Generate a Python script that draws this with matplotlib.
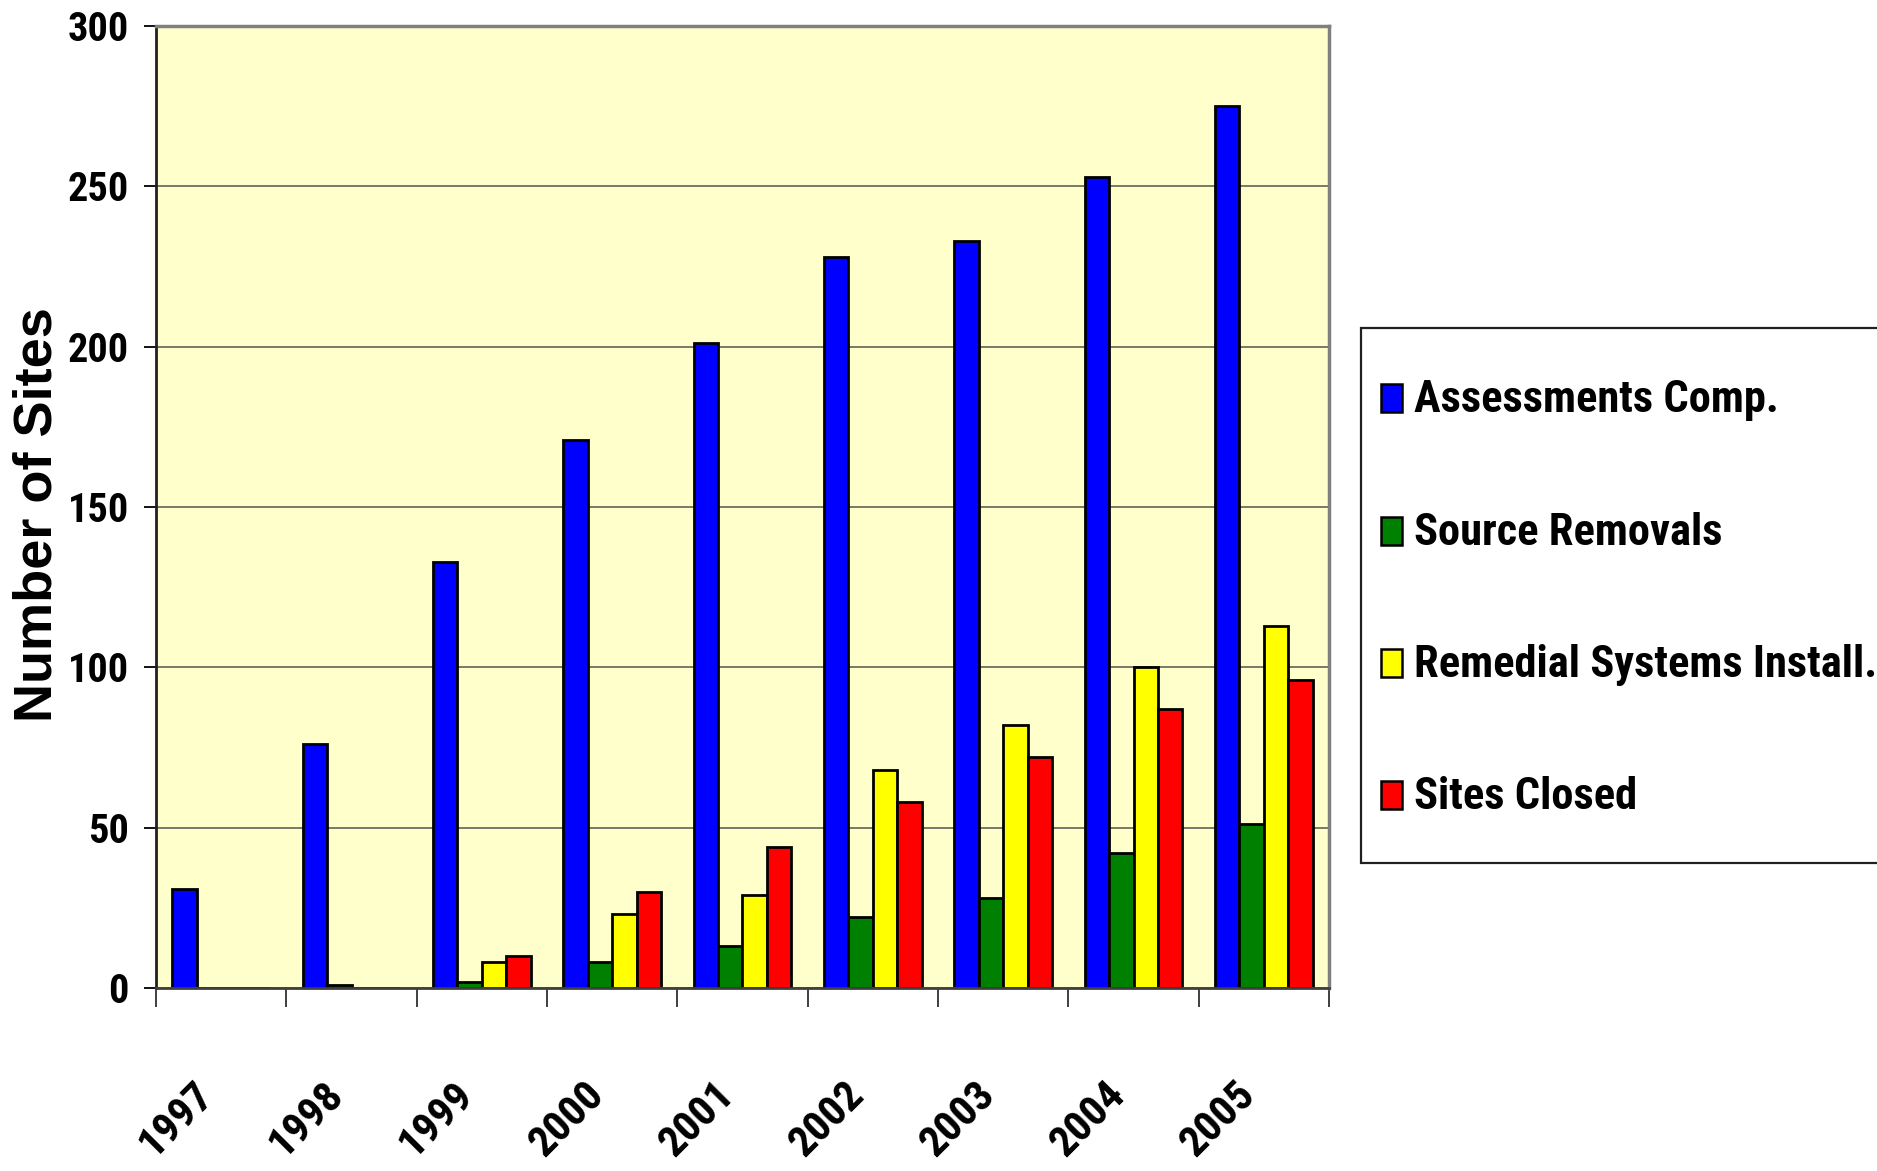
import matplotlib
matplotlib.use("Agg")
import matplotlib.pyplot as plt
from matplotlib import font_manager as fm
import numpy as np
from matplotlib.patches import Rectangle

# ---- data ----
years = ["1997", "1998", "1999", "2000", "2001", "2002", "2003", "2004", "2005"]
assessments = [31, 76, 133, 171, 201, 228, 233, 253, 275]
source_removals = [0, 1, 2, 8, 13, 22, 28, 42, 51]
remedial_installs = [0, 0, 8, 23, 29, 68, 82, 100, 113]
sites_closed = [0, 0, 10, 30, 44, 58, 72, 87, 96]
series_names = ["Assessments Comp.", "Source Removals",
                "Remedial Systems Install.", "Sites Closed"]
series_colors = ["#0000FF", "#008000", "#FFFF00", "#FF0000"]
y_ticks = [0, 50, 100, 150, 200, 250, 300]


def available(fam):
    try:
        fm.findfont(fm.FontProperties(family=fam, weight="bold"),
                    fallback_to_default=False)
        return True
    except Exception:
        return False


narrow = None
for cand in ["Roboto Condensed", "Liberation Sans Narrow", "Arial Narrow"]:
    if available(cand):
        narrow = cand
        break
if narrow is not None:
    NARROW = [narrow, "DejaVu Sans"]
    k = 1.0
else:
    NARROW = ["Liberation Sans", "DejaVu Sans"]
    k = 0.8
WIDE = ["Liberation Sans", "DejaVu Sans"]

W, H = 1877, 1171
fig = plt.figure(figsize=(W / 100, H / 100), dpi=100)
fig.patch.set_facecolor("white")

ax = fig.add_axes([156 / W, 1 - 988 / H, (1329 - 156) / W, (988 - 26) / H])
ax.set_facecolor("#FFFFCC")

x = np.arange(len(years))
bw = 0.1875
all_series = [assessments, source_removals, remedial_installs, sites_closed]
for i, (vals, col) in enumerate(zip(all_series, series_colors)):
    ax.bar(x + (i - 1.5) * bw, vals, width=bw, color=col,
           edgecolor="black", linewidth=2.0, zorder=3)

ax.set_xlim(-0.5, len(years) - 0.5)
ax.set_ylim(0, 300)

# grid
ax.set_axisbelow(True)
ax.yaxis.grid(True, color="#6e6e60", linewidth=1.3)
ax.xaxis.grid(False)

# spines
for s in ["top", "right"]:
    ax.spines[s].set_color("#808080")
    ax.spines[s].set_linewidth(2.5)
ax.spines["left"].set_color("#202020")
ax.spines["left"].set_linewidth(2.0)
ax.spines["bottom"].set_color("#404040")
ax.spines["bottom"].set_linewidth(2.0)
ax.spines["bottom"].set_zorder(4)

# y ticks
ax.set_yticks(y_ticks)
ax.set_yticklabels([str(v) for v in y_ticks], fontfamily=NARROW,
                   fontweight="bold", fontsize=29 * k)
ax.tick_params(axis="y", length=8.6, width=1.3, color="black", pad=11)

# x ticks: labels at centers, tick marks at boundaries
ax.set_xticks(x)
ax.set_xticklabels(years, rotation=45, ha="right", va="top",
                   fontfamily=NARROW, fontweight="bold", fontsize=31 * k)
ax.tick_params(axis="x", which="major", length=0, pad=62)
ax.set_xticks(np.arange(-0.5, len(years), 1.0), minor=True)
ax.tick_params(axis="x", which="minor", length=13.7, width=1.3, color="#303030")

# y label
fig.text(38 / W, 1 - 515 / H, "Number of Sites", rotation=90,
         ha="center", va="center", fontfamily=WIDE, fontweight="bold",
         fontsize=39)

# legend (drawn as a box with keys)
lx0, ly0, lx1, ly1 = 1361, 328, 1905, 862.7
fig.patches.append(Rectangle((lx0 / W, 1 - ly1 / H), (lx1 - lx0) / W,
                             (ly1 - ly0) / H, transform=fig.transFigure,
                             facecolor="white", edgecolor="#202020",
                             linewidth=1.6, zorder=1))
entry_y = [398, 531, 663, 795]
for name, col, ey in zip(series_names, series_colors, entry_y):
    fig.patches.append(Rectangle((1381 / W, 1 - (ey + 14) / H), 21 / W, 28 / H,
                                 transform=fig.transFigure, facecolor=col,
                                 edgecolor="black", linewidth=1.8, zorder=2))
    fig.text(1414 / W, 1 - (ey + 2) / H, name, ha="left", va="center",
             fontfamily=NARROW, fontweight="bold", fontsize=32 * k, zorder=3)

fig.savefig("out.png", dpi=100)
